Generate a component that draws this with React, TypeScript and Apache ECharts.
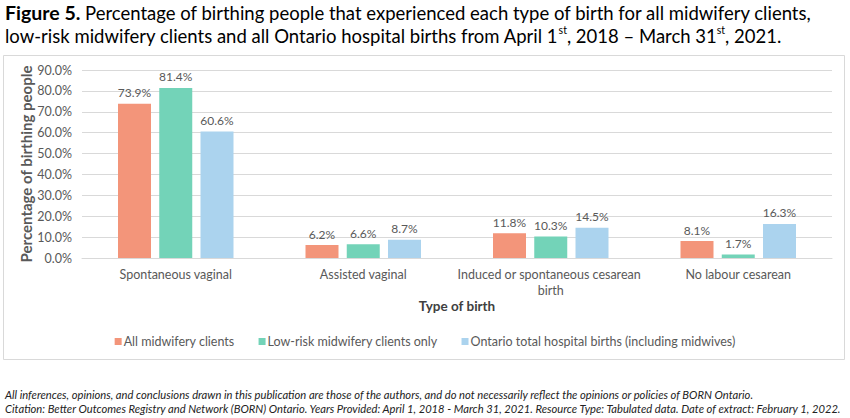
import React, { useEffect, useRef } from "react";
import * as echarts from "echarts";

const categories = [
  "Spontaneous vaginal",
  "Assisted vaginal",
  "Induced or spontaneous cesarean birth",
  "No labour cesarean",
];
const allMidwifery = [73.9, 6.2, 11.8, 8.1];
const lowRiskMidwifery = [81.4, 6.6, 10.3, 1.7];
const ontarioHospital = [60.6, 8.7, 14.5, 16.3];
const seriesNames = [
  "All midwifery clients",
  "Low-risk midwifery clients only",
  "Ontario total hospital births (including midwives)",
];
const colors = ["#F3957A", "#73D3B8", "#ABD3EE"];
const footnotes = [
  "All inferences, opinions, and conclusions drawn in this publication are those of the authors, and do not necessarily reflect the opinions or policies of BORN Ontario.",
  "Citation: Better Outcomes Registry and Network (BORN) Ontario. Years Provided: April 1, 2018 - March 31, 2021. Resource Type: Tabulated data. Date of extract: February 1, 2022.",
];

const FONT = "Lato";

export default function App() {
  const ref = useRef<HTMLDivElement>(null);
  useEffect(() => {
    document.body.style.margin = "0";
    const chart = echarts.init(ref.current!, null, { renderer: "svg" });
    const label = {
      show: true,
      position: "top" as const,
      distance: 5,
      fontFamily: FONT,
      fontSize: 12,
      color: "#595959",
      formatter: (p: any) => Number(p.value).toFixed(1) + "%",
    };
    const mk = (name: string, data: number[], color: string) => ({
      name,
      type: "bar" as const,
      data,
      barWidth: "17.6%",
      barGap: "25%",
      itemStyle: { color },
      label,
    });
    chart.setOption({
      animation: false,
      textStyle: { fontFamily: FONT },
      title: {
        left: 5,
        top: 1,
        padding: 0,
        text:
          "{b|Figure 5.}{r| Percentage of birthing people that experienced each type of birth for all midwifery clients,}\n" +
          "{r|low-risk midwifery clients and all Ontario hospital births from April 1}{sup|st}{r|, 2018 \u2013 March 31}{sup|st}{r|, 2021.}",
        textStyle: {
          fontWeight: "normal",
          rich: {
            b: { fontFamily: FONT, fontSize: 19.5, fontWeight: "bold", color: "#000", lineHeight: 23 },
            r: { fontFamily: FONT, fontSize: 18.5, fontWeight: "normal", color: "#000", lineHeight: 23 },
            sup: { fontFamily: FONT, fontSize: 10.5, fontWeight: "normal", color: "#000", lineHeight: 23, verticalAlign: "top", padding: [0, 0, 6, 0] },
          },
        },
      },
      grid: { left: 82, right: 18, top: 70, bottom: 160, containLabel: false },
      legend: {
        bottom: 65,
        left: "center",
        icon: "rect",
        itemWidth: 7,
        itemHeight: 7,
        itemGap: 24,
        textStyle: { fontFamily: FONT, fontSize: 12.5, color: "#595959", padding: [0, 0, 0, -3] },
        data: seriesNames,
      },
      xAxis: {
        type: "category",
        data: categories,
        axisTick: { show: false },
        axisLine: { lineStyle: { color: "#D9D9D9", width: 1 } },
        axisLabel: {
          fontFamily: FONT,
          fontSize: 12.5,
          color: "#595959",
          margin: 8,
          width: 190,
          overflow: "break",
          interval: 0,
          lineHeight: 16,
        },
        name: "Type of birth",
        nameLocation: "middle",
        nameGap: 37,
        nameTextStyle: { fontFamily: FONT, fontSize: 13.5, fontWeight: "bold", color: "#404040" },
      },
      yAxis: {
        type: "value",
        min: 0,
        max: 90,
        interval: 10,
        axisLabel: {
          fontFamily: FONT,
          fontSize: 12.5,
          color: "#595959",
          margin: 10,
          formatter: (v: number) => v.toFixed(1) + "%",
        },
        splitLine: { lineStyle: { color: "#D9D9D9" } },
        name: "Percentage of birthing people",
        nameLocation: "middle",
        nameGap: 49,
        nameMoveOverlap: false,
        nameTextStyle: { fontFamily: FONT, fontSize: 15, fontWeight: "bold", color: "#595959" },
      },
      series: [
        mk(seriesNames[0], allMidwifery, colors[0]),
        mk(seriesNames[1], lowRiskMidwifery, colors[1]),
        mk(seriesNames[2], ontarioHospital, colors[2]),
      ],
      graphic: [
        {
          type: "rect",
          shape: { x: 3.5, y: 55.5, width: 841, height: 304 },
          style: { fill: "none", stroke: "#D9D9D9", lineWidth: 1 },
          silent: true,
          z: -1,
        },
        {
          type: "text",
          x: 5,
          y: 389,
          style: { text: footnotes[0], fontFamily: FONT, fontSize: 11.2, fontStyle: "italic", fill: "#222" },
        },
        {
          type: "text",
          x: 5,
          y: 403,
          style: { text: footnotes[1], fontFamily: FONT, fontSize: 11.2, fontStyle: "italic", fill: "#222" },
        },
      ],
    });
    return () => chart.dispose();
  }, []);
  return <div ref={ref} style={{ width: 850, height: 418 }} />;
}
